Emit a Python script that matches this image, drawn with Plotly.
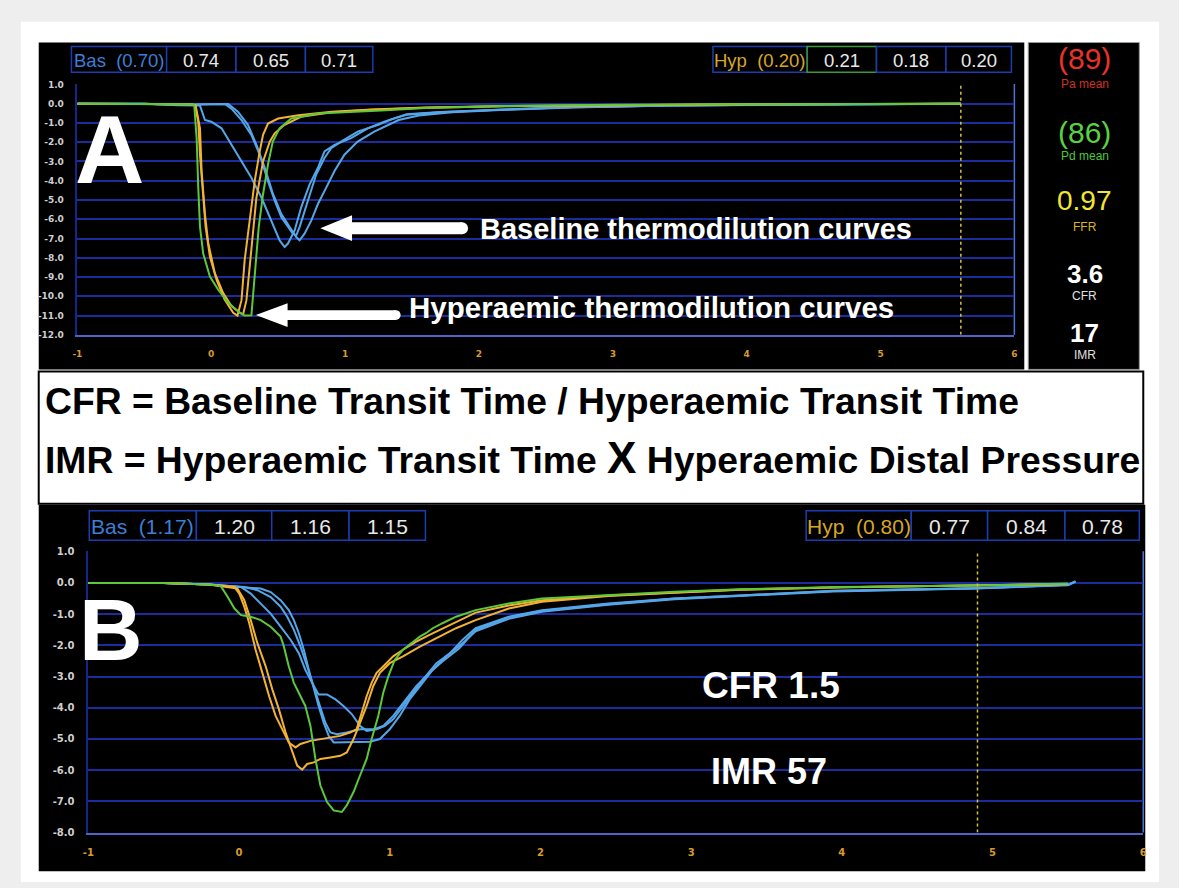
import plotly.graph_objects as go

W, H = 1179, 888

# ---------------- data ----------------
# Panel A (baseline = blue, hyperaemic = orange / green)
A_bas1_x = [-1, -0.5, -0.25, -0.084, -0.047, 0.0, 0.077, 0.151, 0.226, 0.3, 0.375, 0.449, 0.511, 0.548, 0.573, 0.623, 0.672, 0.735, 0.797, 0.846, 0.921, 1.045, 1.169, 1.293, 1.46, 1.71, 2.2, 2.7, 3.45, 4.5, 5.6]
A_bas1_y = [0, 0, -0.08, -0.1, -0.85, -0.94, -1.28, -2.14, -3.0, -3.85, -4.87, -6.07, -7.1, -7.44, -7.26, -6.58, -5.38, -4.19, -3.33, -2.48, -2.14, -1.79, -1.28, -0.94, -0.55, -0.43, -0.3, -0.17, -0.09, -0.04, 0.0]
A_bas2_x = [-1, -0.5, -0.25, 0.102, 0.151, 0.226, 0.3, 0.362, 0.424, 0.474, 0.524, 0.573, 0.61, 0.635, 0.66, 0.722, 0.784, 0.846, 0.896, 0.97, 1.094, 1.243, 1.35, 1.46, 1.71, 2.2, 2.7, 3.45, 4.5, 5.6]
A_bas2_y = [0, 0, -0.06, -0.02, -0.26, -0.85, -1.62, -2.65, -4.02, -5.04, -5.9, -6.41, -6.75, -6.84, -6.41, -5.04, -3.68, -2.82, -2.31, -1.97, -1.45, -1.11, -0.8, -0.58, -0.45, -0.3, -0.18, -0.09, -0.04, 0.0]
A_bas3_x = [-1, -0.5, -0.25, 0.127, 0.201, 0.275, 0.338, 0.4, 0.462, 0.524, 0.586, 0.635, 0.66, 0.697, 0.747, 0.797, 0.859, 0.921, 0.995, 1.094, 1.218, 1.293, 1.4, 1.55, 1.8, 2.2, 2.7, 3.45, 4.5, 5.6]
A_bas3_y = [0, 0, -0.06, -0.02, -0.43, -1.11, -2.14, -3.33, -4.7, -5.73, -6.41, -6.92, -7.09, -6.75, -6.07, -5.21, -4.36, -3.5, -2.65, -1.97, -1.45, -1.2, -0.85, -0.62, -0.45, -0.32, -0.2, -0.1, -0.04, 0.0]
A_hyp1_x = [-1, -0.5, -0.15, -0.12, -0.097, -0.084, -0.06, -0.042, -0.01, 0.04, 0.10, 0.164, 0.196, 0.226, 0.25, 0.288, 0.325, 0.362, 0.387, 0.424, 0.5, 0.65, 0.9, 1.2, 1.6, 2.2, 3.0, 4.0, 5.6]
A_hyp1_y = [0, 0, -0.03, -0.08, -0.94, -2.65, -4.87, -6.4, -7.95, -9.15, -10.17, -10.85, -11.0, -10.2, -8.1, -6.07, -4.0, -2.48, -1.62, -1.03, -0.77, -0.6, -0.42, -0.3, -0.2, -0.12, -0.07, -0.03, 0.0]
A_hyp2_x = [-1, -0.5, -0.15, -0.117, -0.084, -0.072, -0.047, -0.022, 0.027, 0.089, 0.151, 0.213, 0.238, 0.263, 0.3, 0.337, 0.387, 0.437, 0.474, 0.548, 0.67, 0.9, 1.2, 1.6, 2.2, 3.0, 4.0, 5.6]
A_hyp2_y = [0, 0, -0.03, -0.09, -1.28, -3.5, -5.73, -7.26, -8.8, -9.83, -10.5, -10.85, -10.94, -10.2, -7.4, -4.9, -3.0, -1.97, -1.54, -1.1, -0.68, -0.45, -0.32, -0.21, -0.13, -0.07, -0.03, 0.0]
A_hyp3_x = [-1, -0.5, -0.15, -0.127, -0.109, -0.097, -0.084, -0.06, -0.01, 0.052, 0.127, 0.213, 0.25, 0.3, 0.325, 0.355, 0.387, 0.424, 0.46, 0.51, 0.598, 0.797, 1.27, 1.6, 2.2, 3.0, 4.0, 5.6]
A_hyp3_y = [0, 0, -0.03, -0.085, -1.8, -4.36, -6.4, -7.78, -8.97, -9.66, -10.34, -10.85, -11.0, -10.99, -8.8, -6.4, -4.7, -3.16, -1.97, -1.28, -0.77, -0.51, -0.35, -0.22, -0.12, -0.06, -0.03, 0.0]

# Panel B
B_bas1_x = [-1, -0.5, -0.2, 0.013, 0.078, 0.144, 0.21, 0.276, 0.342, 0.397, 0.44, 0.485, 0.528, 0.584, 0.64, 0.693, 0.748, 0.803, 0.847, 0.913, 0.968, 1.023, 1.088, 1.155, 1.22, 1.31, 1.4, 1.484, 1.57, 1.79, 2.01, 2.45, 2.89, 3.33, 3.94, 4.89, 5.5, 5.55]
B_bas1_y = [0, 0, -0.05, -0.13, -0.34, -0.66, -0.98, -1.4, -1.82, -2.25, -2.78, -3.2, -3.57, -3.57, -3.73, -3.94, -4.2, -4.58, -4.74, -4.69, -4.58, -4.37, -3.94, -3.52, -3.1, -2.57, -2.25, -1.82, -1.45, -1.08, -0.87, -0.66, -0.5, -0.4, -0.25, -0.17, -0.06, 0.05]
B_bas2_x = [-1, -0.5, -0.2, 0.056, 0.144, 0.21, 0.276, 0.33, 0.364, 0.397, 0.43, 0.463, 0.496, 0.528, 0.562, 0.595, 0.628, 0.693, 0.78, 0.869, 0.935, 1.0, 1.066, 1.132, 1.2, 1.286, 1.374, 1.484, 1.57, 1.79, 2.01, 2.45, 2.89, 3.33, 3.94, 4.89, 5.5, 5.55]
B_bas2_y = [0, 0, -0.05, -0.13, -0.18, -0.29, -0.55, -0.87, -1.19, -1.61, -2.14, -2.78, -3.41, -3.94, -4.48, -4.9, -5.11, -5.11, -5.11, -5.09, -5.0, -4.69, -4.26, -3.73, -3.31, -2.78, -2.35, -1.93, -1.55, -1.15, -0.92, -0.7, -0.52, -0.42, -0.27, -0.18, -0.07, 0.04]
B_bas3_x = [-1, -0.5, -0.2, 0.034, 0.122, 0.21, 0.276, 0.32, 0.364, 0.408, 0.452, 0.496, 0.54, 0.573, 0.606, 0.65, 0.715, 0.803, 0.891, 0.957, 1.023, 1.088, 1.176, 1.264, 1.352, 1.462, 1.57, 1.79, 2.01, 2.45, 2.89, 3.33, 3.94, 4.89, 5.5, 5.55]
B_bas3_y = [0, 0, -0.05, -0.13, -0.23, -0.45, -0.76, -1.08, -1.5, -2.04, -2.67, -3.31, -3.94, -4.48, -4.79, -4.85, -4.79, -4.69, -4.69, -4.58, -4.26, -3.84, -3.31, -2.88, -2.51, -2.09, -1.5, -1.1, -0.9, -0.68, -0.5, -0.4, -0.26, -0.17, -0.06, 0.05]
B_hyp1_x = [-1, -0.5, -0.2, -0.03, 0.002, 0.035, 0.068, 0.11, 0.155, 0.2, 0.243, 0.287, 0.33, 0.375, 0.408, 0.474, 0.54, 0.6, 0.67, 0.737, 0.78, 0.814, 0.847, 0.88, 0.913, 0.968, 1.023, 1.088, 1.176, 1.264, 1.352, 1.484, 1.57, 1.79, 2.01, 2.45, 2.89, 3.33, 4.0, 4.9, 5.5]
B_hyp1_y = [0, 0, -0.05, -0.13, -0.34, -0.76, -1.29, -2.14, -2.88, -3.63, -4.26, -4.69, -5.11, -5.27, -5.16, -5.06, -5.0, -4.95, -4.9, -4.79, -4.69, -4.16, -3.63, -3.2, -2.88, -2.62, -2.35, -2.14, -1.88, -1.66, -1.45, -1.13, -0.95, -0.72, -0.55, -0.4, -0.3, -0.21, -0.14, -0.08, -0.03]
B_hyp2_x = [-1, -0.5, -0.2, -0.01, 0.035, 0.078, 0.122, 0.177, 0.221, 0.265, 0.309, 0.353, 0.386, 0.419, 0.452, 0.496, 0.54, 0.606, 0.672, 0.715, 0.76, 0.803, 0.847, 0.891, 0.935, 1.0, 1.088, 1.2, 1.31, 1.44, 1.57, 1.79, 2.01, 2.45, 2.89, 3.33, 4.0, 4.9, 5.5]
B_hyp2_y = [0, 0, -0.05, -0.18, -0.55, -1.19, -1.93, -2.67, -3.41, -4.05, -4.79, -5.43, -5.85, -5.98, -5.8, -5.75, -5.64, -5.59, -5.54, -5.43, -5.0, -4.48, -3.94, -3.3, -2.88, -2.57, -2.35, -2.04, -1.77, -1.45, -1.19, -0.82, -0.6, -0.42, -0.31, -0.22, -0.14, -0.08, -0.03]
B_hyp3_x = [-1, -0.5, -0.2, -0.12, -0.075, -0.03, 0.013, 0.078, 0.144, 0.21, 0.276, 0.298, 0.33, 0.364, 0.408, 0.44, 0.474, 0.507, 0.54, 0.584, 0.628, 0.682, 0.715, 0.76, 0.803, 0.847, 0.88, 0.924, 0.957, 0.99, 1.034, 1.088, 1.143, 1.2, 1.24, 1.286, 1.35, 1.44, 1.57, 1.79, 2.01, 2.45, 2.89, 3.33, 4.0, 4.9, 5.5]
B_hyp3_y = [0, 0, -0.05, -0.1, -0.45, -0.82, -1.03, -1.08, -1.19, -1.4, -1.72, -2.04, -2.67, -3.2, -3.63, -3.94, -4.58, -5.64, -6.49, -7.02, -7.29, -7.34, -7.13, -6.7, -6.17, -5.64, -5.0, -4.26, -3.52, -3.0, -2.46, -2.14, -1.93, -1.72, -1.61, -1.45, -1.29, -1.08, -0.87, -0.66, -0.5, -0.38, -0.28, -0.2, -0.13, -0.08, -0.02]

# axis ticks / labels
A_yticks = list(range(1, -13, -1))
A_yticklabels = ["1.0", "0.0", "-1.0", "-2.0", "-3.0", "-4.0", "-5.0", "-6.0", "-7.0", "-8.0", "-9.0", "-10.0", "-11.0", "-12.0"]
B_yticks = list(range(1, -9, -1))
B_yticklabels = ["1.0", "0.0", "-1.0", "-2.0", "-3.0", "-4.0", "-5.0", "-6.0", "-7.0", "-8.0"]
X_ticks = [-1, 0, 1, 2, 3, 4, 5, 6]
X_ticklabels = ["-1", "0", "1", "2", "3", "4", "5", "6"]
A_cursor_x = 5.6
B_cursor_x = 4.9

# header texts
A_bas_label, A_bas_vals = "Bas  (0.70)", ["0.74", "0.65", "0.71"]
A_hyp_label, A_hyp_vals = "Hyp  (0.20)", ["0.21", "0.18", "0.20"]
B_bas_label, B_bas_vals = "Bas  (1.17)", ["1.20", "1.16", "1.15"]
B_hyp_label, B_hyp_vals = "Hyp  (0.80)", ["0.77", "0.84", "0.78"]

side_values = ["(89)", "(86)", "0.97", "3.6", "17"]
side_labels = ["Pa mean", "Pd mean", "FFR", "CFR", "IMR"]

BLUE = "#55a6e8"
ORANGE = "#f2b233"
GREEN = "#5cc83a"
GRID = "#1b2c9c"

# ---------------- helpers (pixel -> paper) ----------------
def fx(x):
    return x / W


def fy(y):
    return 1 - y / H


shapes = []
annotations = []


def rect(x0, y0, x1, y1, fill, line_color=None, line_width=0, layer="below"):
    shapes.append(dict(type="rect", xref="paper", yref="paper",
                       x0=fx(x0), x1=fx(x1), y0=fy(y1), y1=fy(y0),
                       fillcolor=fill, layer=layer,
                       line=dict(color=line_color or fill, width=line_width)))


def text(x, y, s, size, color, xanchor="center", bold=False, family="Liberation Sans, Arial, sans-serif"):
    annotations.append(dict(xref="paper", yref="paper", x=fx(x), y=fy(y),
                            text=("<b>%s</b>" % s) if bold else s,
                            showarrow=False, xanchor=xanchor, yanchor="middle",
                            borderpad=0,
                            font=dict(size=size, color=color, family=family)))


def arrow(tip_x, tip_y, head_len, head_half, shaft_end, shaft_half):
    path = ("M %f,%f L %f,%f L %f,%f L %f,%f L %f,%f L %f,%f L %f,%f Z" % (
        fx(tip_x), fy(tip_y),
        fx(tip_x + head_len), fy(tip_y - head_half),
        fx(tip_x + head_len), fy(tip_y - shaft_half),
        fx(shaft_end), fy(tip_y - shaft_half),
        fx(shaft_end), fy(tip_y + shaft_half),
        fx(tip_x + head_len), fy(tip_y + shaft_half),
        fx(tip_x + head_len), fy(tip_y + head_half)))
    shapes.append(dict(type="path", xref="paper", yref="paper", path=path,
                       fillcolor="white", line=dict(width=0), layer="above"))
    shapes.append(dict(type="circle", xref="paper", yref="paper",
                       x0=fx(shaft_end - shaft_half), x1=fx(shaft_end + shaft_half),
                       y0=fy(tip_y + shaft_half), y1=fy(tip_y - shaft_half),
                       fillcolor="white", line=dict(width=0), layer="above"))


# ---------------- background blocks ----------------
rect(15, 17, 1163, 888, "white")
rect(33, 38, 1027, 369, "black")
rect(1031, 38, 1143, 369, "black", "#9a9a9a", 1)
rect(33, 371, 1147, 505, "white", "black", 2)
rect(33, 506, 1149, 877, "black")

# header boxes
def header(y0, y1, edges, label, vals, label_color, green_idx, size):
    colors = [label_color] + ["#e8e8e8"] * len(vals)
    texts = [label] + vals
    for i in range(len(texts)):
        lc = "#3a9a3a" if (green_idx is not None and i == green_idx) else "#1d3cb0"
        rect(edges[i], y0, edges[i + 1], y1, "black", lc, 1.5, layer="above")
        text((edges[i] + edges[i + 1]) / 2, (y0 + y1) / 2 + 1, texts[i], size, colors[i])


header(42, 68, [66, 162, 232, 302, 370], A_bas_label, A_bas_vals, "#3d7fd6", None, 18.5)
header(42, 68, [713, 808, 878, 948, 1014], A_hyp_label, A_hyp_vals, "#d8a625", 1, 18.5)
header(512, 542, [84, 192, 268, 346, 423], B_bas_label, B_bas_vals, "#3d7fd6", None, 21)
header(512, 542, [807, 913, 990, 1068, 1143], B_hyp_label, B_hyp_vals, "#d8a625", 4, 21)

# side panel
side_y = [54, 129, 198, 272, 332]
side_ly = [80, 153, 225, 295, 354]
side_col = ["#e8322a", "#5ad240", "#f2e630", "white", "white"]
side_lcol = ["#d0302a", "#4cc83a", "#d8b42a", "#e0e0e0", "#e0e0e0"]
side_size = [30, 30, 28, 26, 26]
for i in range(5):
    text(1088, side_y[i], side_values[i], side_size[i], side_col[i], bold=(i >= 3))
    text(1088, side_ly[i], side_labels[i], 12, side_lcol[i])

# formulas
text(38, 401, "CFR = Baseline Transit Time / Hyperaemic Transit Time", 37.3, "black", xanchor="left", bold=True)
text(38, 458, "IMR = Hyperaemic Transit Time <span style='font-size:44px'>X</span> Hyperaemic Distal Pressure",
     37.3, "black", xanchor="left", bold=True)

# panel letters and labels
text(104, 146, "A", 96, "white", bold=True)
text(106, 632, "B", 88, "white", bold=True)
text(477, 227, "Baseline thermodilution curves", 29, "white", xanchor="left", bold=True)
text(405, 306, "Hyperaemic thermodilution curves", 29.5, "white", xanchor="left", bold=True)
text(772, 689, "CFR 1.5", 37, "white", bold=True)
text(770, 776, "IMR 57", 36, "white", bold=True)

arrow(317, 226, 32, 13, 460, 6)
arrow(252, 314, 32, 12, 393, 5)

# right border lines of plot areas
shapes.append(dict(type="line", xref="paper", yref="paper", x0=fx(1017), x1=fx(1017), y0=fy(334), y1=fy(80),
                   line=dict(color="#5071d8", width=1.5), layer="below"))
shapes.append(dict(type="line", xref="paper", yref="paper", x0=fx(1147), x1=fx(1147), y0=fy(838), y1=fy(553),
                   line=dict(color="#5071d8", width=1.5), layer="below"))

# cursor dashed lines
shapes.append(dict(type="line", xref="x", yref="y", x0=A_cursor_x, x1=A_cursor_x, y0=-12, y1=1,
                   line=dict(color="#d8c044", width=1.5, dash="dot")))
shapes.append(dict(type="line", xref="x2", yref="y2", x0=B_cursor_x, x1=B_cursor_x, y0=-8, y1=1,
                   line=dict(color="#d8c044", width=1.5, dash="dot")))

# ---------------- traces ----------------
fig = go.Figure()
A_series = [(A_bas1_x, A_bas1_y, BLUE), (A_bas2_x, A_bas2_y, BLUE), (A_bas3_x, A_bas3_y, BLUE),
            (A_hyp1_x, A_hyp1_y, ORANGE), (A_hyp2_x, A_hyp2_y, ORANGE), (A_hyp3_x, A_hyp3_y, GREEN)]
B_series = [(B_bas1_x, B_bas1_y, BLUE), (B_bas2_x, B_bas2_y, BLUE), (B_bas3_x, B_bas3_y, BLUE),
            (B_hyp1_x, B_hyp1_y, ORANGE), (B_hyp2_x, B_hyp2_y, ORANGE), (B_hyp3_x, B_hyp3_y, GREEN)]
for xs, ys, c in A_series:
    fig.add_trace(go.Scatter(x=xs, y=ys, mode="lines", line=dict(color=c, width=2),
                             xaxis="x", yaxis="y", showlegend=False, hoverinfo="skip"))
for xs, ys, c in B_series:
    fig.add_trace(go.Scatter(x=xs, y=ys, mode="lines", line=dict(color=c, width=2),
                             xaxis="x2", yaxis="y2", showlegend=False, hoverinfo="skip"))

xtickfont_A = dict(size=9, color="#d99a2e", family="DejaVu Sans", weight="bold")
xtickfont_B = dict(size=10, color="#d99a2e", family="DejaVu Sans", weight="bold")
ytickfont_A = dict(size=9, color="#cfcfcf", family="DejaVu Sans", weight="bold")
ytickfont_B = dict(size=10, color="#cfcfcf", family="DejaVu Sans", weight="bold")

fig.update_layout(
    width=W, height=H, autosize=False,
    margin=dict(l=0, r=0, t=0, b=0, pad=0),
    paper_bgcolor="#eeeeee", plot_bgcolor="black",
    showlegend=False,
    xaxis=dict(domain=[fx(72), fx(1017)], range=[-1, 6], tickvals=X_ticks, ticktext=X_ticklabels,
               showgrid=False, zeroline=False, showline=True, linecolor="#4a64c8", linewidth=1.5,
               ticks="", tickfont=xtickfont_A, ticklabelstandoff=10, anchor="y", fixedrange=True),
    yaxis=dict(domain=[fy(334), fy(80)], range=[-12, 1.02], tickvals=A_yticks, ticktext=A_yticklabels,
               showgrid=True, gridcolor=GRID, gridwidth=1.5, zeroline=False,
               showline=True, linecolor="#16258a", linewidth=1.5,
               ticks="", tickfont=ytickfont_A, ticklabelstandoff=10, anchor="x", fixedrange=True),
    xaxis2=dict(domain=[fx(83), fx(1147)], range=[-1, 6], tickvals=X_ticks, ticktext=X_ticklabels,
                showgrid=False, zeroline=False, showline=True, linecolor="#4a64c8", linewidth=1.5,
                ticks="", tickfont=xtickfont_B, ticklabelstandoff=10, anchor="y2", fixedrange=True),
    yaxis2=dict(domain=[fy(838), fy(553)], range=[-8, 1.02], tickvals=B_yticks, ticktext=B_yticklabels,
                showgrid=True, gridcolor=GRID, gridwidth=1.5, zeroline=False,
                showline=True, linecolor="#16258a", linewidth=1.5,
                ticks="", tickfont=ytickfont_B, ticklabelstandoff=10, anchor="x2", fixedrange=True),
    shapes=shapes,
    annotations=annotations,
)

fig.write_html("out.html", config={"displayModeBar": False})
